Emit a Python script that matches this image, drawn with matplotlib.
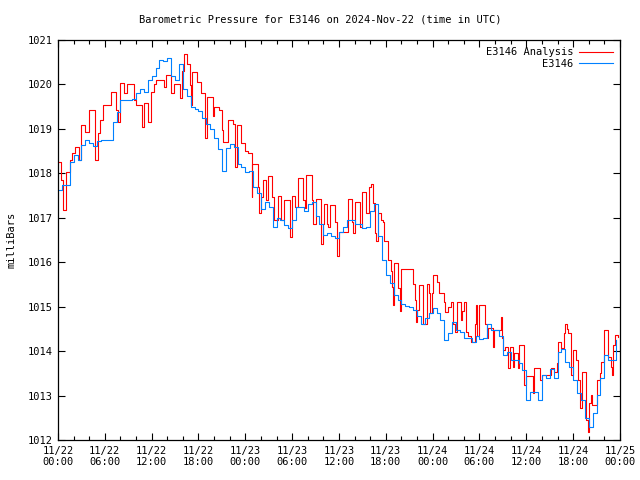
import numpy as np
import pandas as pd
import matplotlib
matplotlib.use("Agg")
import matplotlib.pyplot as plt
import matplotlib.dates as mdates

# Station observations, every 30 minutes from 2024-11-22 00:00 UTC
start = pd.Timestamp("2024-11-22 00:00")
obs_step_h = 0.5
obs_mb = [
    1017.62, 1017.74, 1017.74, 1018.26, 1018.41, 1018.30, 1018.64, 1018.75,
    1018.68, 1018.62, 1018.72, 1018.75, 1018.75, 1018.75, 1019.15, 1019.38,
    1019.65, 1019.65, 1019.65, 1019.68, 1019.80, 1019.89, 1019.82, 1020.10,
    1020.20, 1020.36, 1020.55, 1020.52, 1020.60, 1020.18, 1020.10, 1020.45,
    1019.90, 1019.75, 1019.50, 1019.44, 1019.40, 1019.25, 1019.12, 1019.00,
    1018.80, 1018.55, 1018.05, 1018.58, 1018.65, 1018.60, 1018.20, 1018.15,
    1018.04, 1018.06, 1017.70, 1017.55, 1017.20, 1017.35, 1017.25, 1016.80,
    1017.00, 1016.95, 1016.84, 1016.76, 1016.95, 1017.25, 1017.25, 1017.15,
    1017.30, 1017.35, 1017.05, 1016.85, 1016.62, 1016.65, 1016.60, 1016.54,
    1016.69, 1016.80, 1016.95, 1016.95, 1016.85, 1016.87, 1016.78, 1016.80,
    1017.15, 1017.30, 1016.60, 1016.05, 1015.72, 1015.53, 1015.27, 1015.15,
    1015.05, 1015.02, 1015.00, 1014.92, 1014.80, 1014.62, 1014.74, 1014.85,
    1014.96, 1014.85, 1014.70, 1014.25, 1014.40, 1014.66, 1014.47, 1014.44,
    1014.29, 1014.30, 1014.21, 1014.33, 1014.28, 1014.29, 1014.62, 1014.47,
    1014.48, 1014.33, 1013.91, 1013.99, 1013.80, 1013.80, 1013.74, 1013.57,
    1012.90, 1013.09, 1013.09, 1012.90, 1013.46, 1013.39, 1013.60, 1013.39,
    1013.99, 1014.05, 1013.76, 1013.65, 1013.35, 1013.05, 1012.90, 1012.49,
    1012.30, 1012.60, 1013.01, 1013.39, 1013.91, 1013.80, 1013.80, 1014.25,
]

# Analysis values (irregular step changes), hours after start
ana_hours = [
    0.0, 0.4, 0.7, 1.0, 1.5, 1.75, 2.2, 2.7, 2.95, 3.5, 4.0, 4.8, 5.1, 5.4,
    5.8, 6.8, 7.4, 7.7, 7.9, 8.5, 8.9, 9.7, 10.0, 10.8, 11.0, 11.5, 11.9,
    12.3, 12.6, 13.6, 13.9, 14.5, 14.9, 15.6, 15.9, 16.2, 16.5, 16.9, 17.0,
    17.2, 17.8, 18.3, 18.8, 19.1, 19.8, 20.0, 20.6, 21.0, 21.2, 21.8, 22.4,
    22.7, 22.9, 23.4, 24.0, 24.3, 24.8, 24.9, 25.6, 25.7, 26.0, 26.3, 26.7,
    26.95, 27.4, 27.7, 28.2, 28.6, 28.9, 29.7, 30.0, 30.4, 30.8, 31.4, 31.7,
    31.8, 32.5, 32.7, 33.1, 33.7, 33.9, 34.1, 34.4, 34.6, 34.8, 35.5, 35.7,
    35.8, 36.0, 37.1, 37.7, 37.8, 38.0, 38.7, 38.9, 39.4, 39.5, 39.9, 40.1,
    40.4, 40.6, 40.8, 41.0, 41.4, 41.7, 41.8, 42.3, 42.6, 42.75, 42.9, 43.0,
    43.6, 43.8, 44.0, 45.5, 45.7, 45.85, 46.0, 46.2, 46.8, 47.3, 47.5, 47.7,
    47.9, 48.1, 48.6, 48.8, 49.4, 49.6, 50.0, 50.4, 50.6, 50.8, 51.1, 51.6,
    51.8, 52.0, 52.3, 52.5, 52.9, 53.4, 53.5, 53.7, 54.0, 54.7, 54.9, 55.1,
    55.7, 55.8, 56.6, 56.7, 56.9, 57.0, 57.3, 57.6, 57.9, 58.3, 58.4, 58.9,
    59.0, 59.7, 60.0, 60.8, 61.0, 61.7, 62.0, 63.2, 63.6, 63.9, 64.1, 64.5,
    64.8, 64.9, 65.2, 65.4, 65.7, 66.0, 66.4, 66.6, 66.9, 67.1, 67.7, 67.9,
    68.0, 68.3, 68.4, 69.0, 69.5, 69.6, 69.9, 70.4, 70.9, 71.0, 71.1, 71.3,
    71.7,
]
ana_mb = [
    1018.26, 1017.85, 1017.17, 1018.04, 1018.30, 1018.45, 1018.60, 1018.30,
    1019.09, 1018.94, 1019.42, 1018.30, 1018.90, 1019.20, 1019.54, 1019.84,
    1019.42, 1019.16, 1020.04, 1019.80, 1020.02, 1019.65, 1019.54, 1019.05,
    1019.58, 1019.16, 1019.83, 1020.00, 1020.10, 1019.95, 1020.21, 1019.80,
    1020.02, 1019.69, 1020.30, 1020.69, 1020.47, 1019.98, 1019.54, 1020.27,
    1020.06, 1019.80, 1018.79, 1019.71, 1019.29, 1019.50, 1019.42, 1018.97,
    1018.71, 1019.20, 1019.12, 1018.15, 1019.09, 1018.68, 1018.50, 1018.45,
    1017.47, 1018.22, 1017.70, 1017.10, 1017.47, 1017.85, 1017.40, 1017.94,
    1017.47, 1016.95, 1017.50, 1016.95, 1017.40, 1016.57, 1017.50, 1017.25,
    1017.89, 1017.40, 1017.21, 1017.96, 1017.40, 1016.87, 1017.43, 1016.42,
    1016.87, 1017.32, 1016.87, 1016.80, 1017.29, 1016.90, 1016.60, 1016.13,
    1016.69, 1017.42, 1016.90, 1016.65, 1017.35, 1016.80, 1017.57, 1017.30,
    1017.10, 1017.70, 1017.76, 1017.33, 1016.65, 1016.47, 1017.10, 1016.95,
    1016.90, 1016.47, 1016.05, 1015.80, 1015.45, 1015.04, 1015.98, 1015.42,
    1014.90, 1015.84, 1015.50, 1015.15, 1014.66, 1014.92, 1015.49, 1014.62,
    1015.50, 1015.30, 1014.85, 1015.30, 1015.71, 1015.55, 1015.30, 1015.10,
    1014.89, 1015.00, 1015.11, 1014.60, 1014.44, 1015.11, 1014.70, 1014.90,
    1015.11, 1014.44, 1014.35, 1014.21, 1014.60, 1015.04, 1014.33, 1015.04,
    1014.60, 1014.29, 1014.52, 1014.10, 1014.48, 1014.48, 1014.77, 1014.30,
    1014.02, 1014.10, 1013.62, 1014.10, 1013.65, 1013.95, 1013.62, 1014.14,
    1013.24, 1013.43, 1013.06, 1013.62, 1013.35, 1013.46, 1013.62, 1013.54,
    1013.73, 1014.21, 1014.06, 1014.40, 1014.61, 1014.50, 1014.40, 1013.46,
    1014.02, 1013.80, 1013.35, 1012.71, 1013.54, 1012.45, 1012.19, 1012.83,
    1013.01, 1012.79, 1013.35, 1013.50, 1013.76, 1014.47, 1013.87, 1013.65,
    1013.46, 1014.14, 1014.36, 1014.32,
]

station = "E3146"
title = "Barometric Pressure for E3146 on 2024-Nov-22 (time in UTC)"

obs_t = start + pd.to_timedelta(np.arange(len(obs_mb)) * obs_step_h, unit="h")
ana_t = start + pd.to_timedelta(ana_hours, unit="h")

plt.rcParams["font.family"] = "DejaVu Sans Mono"
plt.rcParams["font.size"] = 7.5

fig = plt.figure(figsize=(6.4, 4.8), dpi=100)
ax = fig.add_axes([58 / 640, 40 / 480, 562 / 640, 400 / 480])

ax.plot(ana_t, ana_mb, color="#ff0000", lw=0.8, drawstyle="steps-post",
        label=f"{station} Analysis")
ax.plot(obs_t, obs_mb, color="#0080ff", lw=0.8, drawstyle="steps-post",
        label=station)

ax.set_xlim(start, start + pd.Timedelta(hours=72))
ax.set_ylim(1012, 1021)
ax.set_yticks(range(1012, 1022))

ax.xaxis.set_major_locator(mdates.HourLocator(byhour=range(0, 24, 6)))
ax.xaxis.set_minor_locator(mdates.HourLocator(byhour=range(0, 24, 2)))
ax.xaxis.set_major_formatter(mdates.DateFormatter("%m/%d\n%H:%M"))

ax.tick_params(which="both", direction="in", top=True, right=True,
               width=0.8, color="black")
ax.tick_params(which="major", length=5, labelsize=7.5, pad=4)
ax.tick_params(which="minor", length=3)
for s in ax.spines.values():
    s.set_linewidth(0.9)

ax.set_ylabel("milliBars", fontsize=7.5, labelpad=8)
fig.text(0.5, 1 - 20 / 480, title, ha="center", va="center", fontsize=7.5)

leg = ax.legend(loc="upper right", frameon=False, markerfirst=False,
                handlelength=3.2, handletextpad=0.6, labelspacing=0.15,
                borderaxespad=0.3, fontsize=7.5)
for t in leg.get_texts():
    t.set_ha("right")

fig.savefig("out.png", dpi=100)
